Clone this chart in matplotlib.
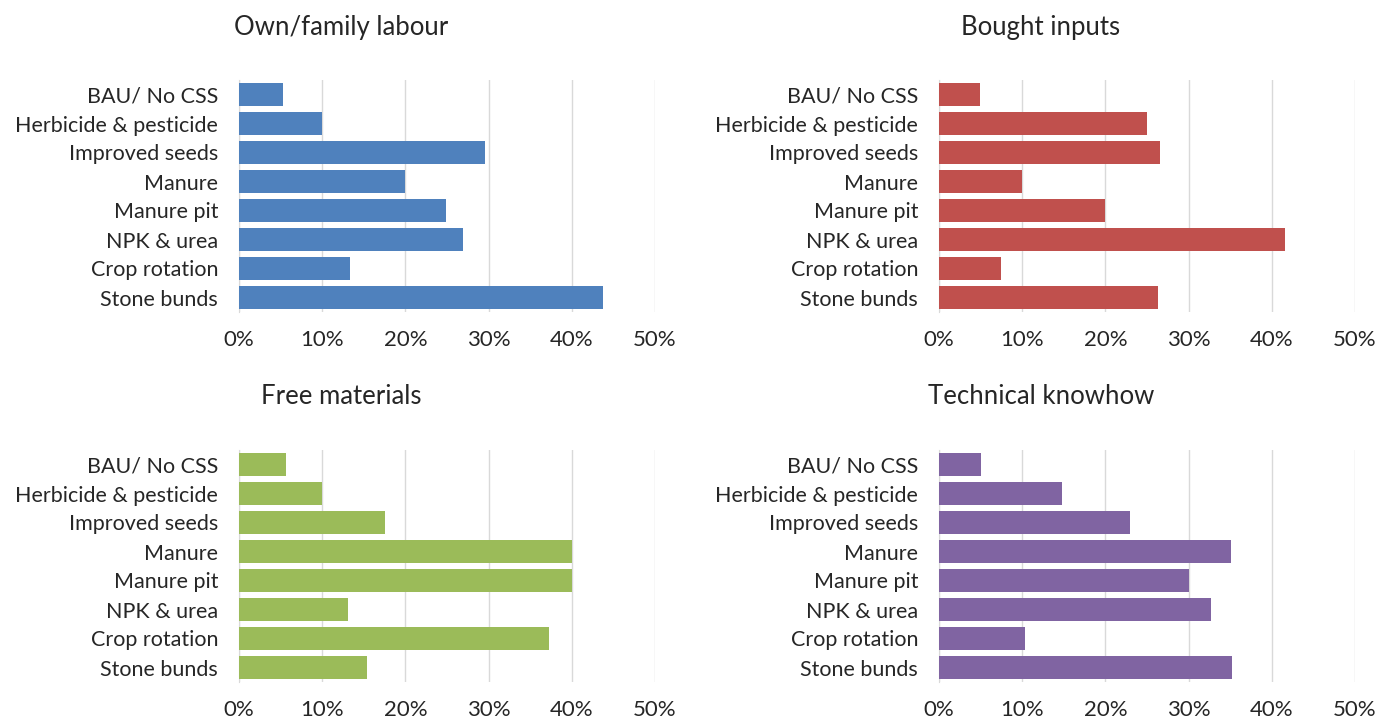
import matplotlib
matplotlib.use("Agg")
import matplotlib.pyplot as plt
from matplotlib.ticker import FuncFormatter

plt.rcParams['font.family'] = ['Lato', 'DejaVu Sans']

practices = ["BAU/ No CSS", "Herbicide & pesticide", "Improved seeds", "Manure",
             "Manure pit", "NPK & urea", "Crop rotation", "Stone bunds"]

own_labour = [5.3, 10.0, 29.6, 19.9, 24.9, 26.9, 13.4, 43.7]
bought_inputs = [4.9, 25.0, 26.6, 10.0, 19.9, 41.6, 7.5, 26.3]
free_materials = [5.7, 10.0, 17.6, 40.0, 40.0, 13.1, 37.2, 15.4]
tech_knowhow = [5.0, 14.8, 22.9, 35.1, 30.0, 32.7, 10.3, 35.2]

titles = ["Own/family labour", "Bought inputs", "Free materials", "Technical knowhow"]
series = [own_labour, bought_inputs, free_materials, tech_knowhow]
colors = ["#4F81BD", "#C0504D", "#9BBB59", "#8064A2"]
xticks = [0, 10, 20, 30, 40, 50]

W, H = 1380, 722
fig = plt.figure(figsize=(W / 100, H / 100), dpi=100)

# axes boxes in pixels: (left, top, right, bottom)
boxes = [(239, 80, 655, 312), (939, 80, 1355, 312),
         (239, 450, 655, 682), (939, 450, 1355, 682)]
title_pos = [(341, 27), (1041, 27), (341, 397), (1041, 397)]

for i in range(4):
    l, t, r, b = boxes[i]
    ax = fig.add_axes([l / W, 1 - b / H, (r - l) / W, (b - t) / H])
    ypos = range(len(practices))
    ax.barh(ypos, series[i], height=0.77, color=colors[i], zorder=3)
    ax.set_ylim(len(practices) - 0.5, -0.5)
    ax.set_xlim(0, 50)
    ax.set_xticks(xticks)
    ax.xaxis.set_major_formatter(FuncFormatter(lambda v, p: f"{v:.0f}%"))
    ax.set_yticks(list(ypos))
    ax.set_yticklabels(practices)
    ax.grid(axis='x', color='#D9D9D9', linewidth=1, zorder=0)
    for s in ['top', 'right', 'bottom']:
        ax.spines[s].set_visible(False)
    ax.spines['left'].set_color('#D9D9D9')
    ax.tick_params(axis='both', length=0, colors='#262626')
    ax.tick_params(axis='x', pad=13, labelsize=16)
    ax.tick_params(axis='y', pad=15, labelsize=15.5)
    fig.text(title_pos[i][0] / W, 1 - title_pos[i][1] / H, titles[i],
             ha='center', va='center', fontsize=18.5, color='#262626')

fig.savefig("out.png", dpi=100, facecolor='white')
